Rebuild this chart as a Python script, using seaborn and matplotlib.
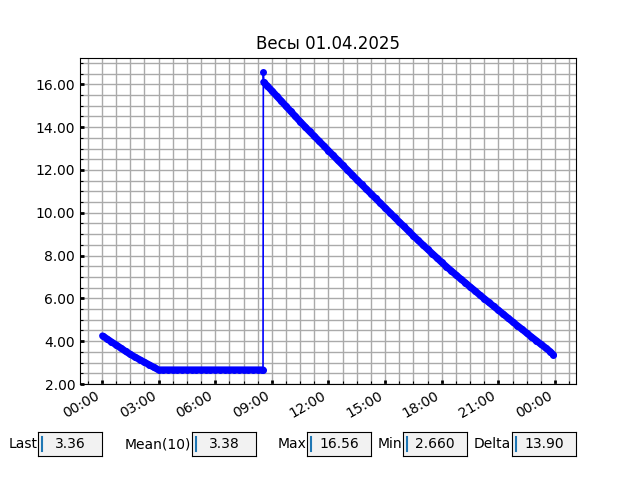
import pandas as pd
import matplotlib
matplotlib.use('Agg')
import matplotlib.pyplot as plt
import matplotlib.dates as mdates
from matplotlib.ticker import MultipleLocator, AutoMinorLocator, FormatStrFormatter
import seaborn as sns

day = '2025-04-01'

# readings of the scale during the day (time, kg)
times = ['00:02', '00:15', '00:30', '00:45', '01:00', '01:15', '01:30', '01:45',
         '02:00', '02:15', '02:30', '02:45', '03:00', '03:15', '03:30', '03:45',
         '04:00', '04:15', '04:30', '04:45', '05:00', '05:15', '05:30', '05:45',
         '06:00', '06:15', '06:30', '06:45', '07:00', '07:15', '07:30', '07:45',
         '08:00', '08:15', '08:30', '08:32', '08:33', '08:34', '08:45',
         '09:00', '09:15', '09:30', '09:45', '10:00', '10:15', '10:30', '10:45',
         '11:00', '11:15', '11:30', '11:45', '12:00', '12:15', '12:30', '12:45',
         '13:00', '13:15', '13:30', '13:45', '14:00', '14:15', '14:30', '14:45',
         '15:00', '15:15', '15:30', '15:45', '16:00', '16:15', '16:30', '16:45',
         '17:00', '17:15', '17:30', '17:45', '18:00', '18:15', '18:30', '18:45',
         '19:00', '19:15', '19:30', '19:45', '20:00', '20:15', '20:30', '20:45',
         '21:00', '21:15', '21:30', '21:45', '22:00', '22:15', '22:30', '22:45',
         '23:00', '23:15', '23:30', '23:45', '23:55']
weights = [4.25, 4.12, 3.97, 3.83, 3.68, 3.53, 3.39, 3.26,
           3.14, 3.02, 2.90, 2.78, 2.66, 2.66, 2.66, 2.66,
           2.66, 2.66, 2.66, 2.66, 2.66, 2.66, 2.66, 2.66,
           2.66, 2.66, 2.66, 2.66, 2.66, 2.66, 2.66, 2.66,
           2.66, 2.66, 2.66, 2.66, 16.56, 16.10, 15.94,
           15.70, 15.46, 15.22, 14.98, 14.74, 14.50, 14.26, 14.03,
           13.80, 13.58, 13.35, 13.13, 12.90, 12.68, 12.45, 12.23,
           12.00, 11.78, 11.55, 11.33, 11.11, 10.89, 10.67, 10.45,
           10.23, 10.01, 9.79, 9.57, 9.36, 9.14, 8.92, 8.71,
           8.50, 8.30, 8.09, 7.89, 7.68, 7.48, 7.29, 7.10,
           6.91, 6.73, 6.54, 6.36, 6.17, 5.99, 5.81, 5.63,
           5.45, 5.27, 5.09, 4.91, 4.73, 4.56, 4.38, 4.20,
           4.03, 3.86, 3.69, 3.51, 3.36]
# before / after the load was put on the scale
phase = ['before'] * 36 + ['spike'] + ['after'] * 63

box_names = ['Last', 'Mean(10)', 'Max', 'Min', 'Delta']
box_values = ['3.36', '3.38', '16.56', '2.660', '13.90']

df = pd.DataFrame({'time': pd.to_datetime([day + ' ' + t for t in times]),
                   'weight': weights, 'phase': phase})

fig = plt.figure(figsize=(6.4, 4.8), dpi=100)
ax = fig.add_subplot(111)
fig.subplots_adjust(bottom=0.2)

# dense samples merge into a thick band
sns.lineplot(data=df[df['phase'] != 'spike'], x='time', y='weight', units='phase',
             estimator=None, ax=ax, color='blue', linewidth=5,
             solid_capstyle='round', sort=False)
sns.lineplot(data=df, x='time', y='weight', ax=ax, color='blue', marker='o',
             markersize=5, markeredgewidth=0, linewidth=1.2, sort=False)

ax.set_title('Весы 01.04.2025')
ax.set_xlabel('')
ax.set_ylabel('')
ax.set_ylim(2, 17.25)

ax.xaxis.set_major_locator(mdates.HourLocator(byhour=range(0, 24, 3)))
ax.xaxis.set_major_formatter(mdates.DateFormatter('%H:%M'))
ax.xaxis.set_minor_locator(AutoMinorLocator(4))
ax.yaxis.set_major_locator(MultipleLocator(2))
ax.yaxis.set_major_formatter(FormatStrFormatter('%.2f'))
ax.yaxis.set_minor_locator(AutoMinorLocator(4))

ax.grid(which='both', color='#aaaaaa', linewidth=1)
ax.set_axisbelow(True)
ax.tick_params(which='major', direction='in', length=3, width=2)
ax.tick_params(which='minor', direction='in', length=2, width=0.8)
ax.tick_params(axis='x', labelrotation=30)
for lbl in ax.get_xticklabels():
    lbl.set_ha('right')

# value boxes under the chart
box_left = [0.06, 0.30, 0.48, 0.63, 0.80]
for name, val, x0 in zip(box_names, box_values, box_left):
    bax = fig.add_axes([x0, 0.05, 0.1, 0.05])
    bax.set_facecolor('0.95')
    bax.set_xticks([])
    bax.set_yticks([])
    bax.set_xlim(0, 1)
    bax.set_ylim(0, 1)
    bax.text(0.5, 0.5, val, ha='center', va='center')
    bax.text(-0.01, 0.5, name, ha='right', va='center', transform=bax.transAxes)
    bax.axvline(0.06, 0.2, 0.8, color='C0', linewidth=1.5)

fig.savefig('out.png', dpi=100)
